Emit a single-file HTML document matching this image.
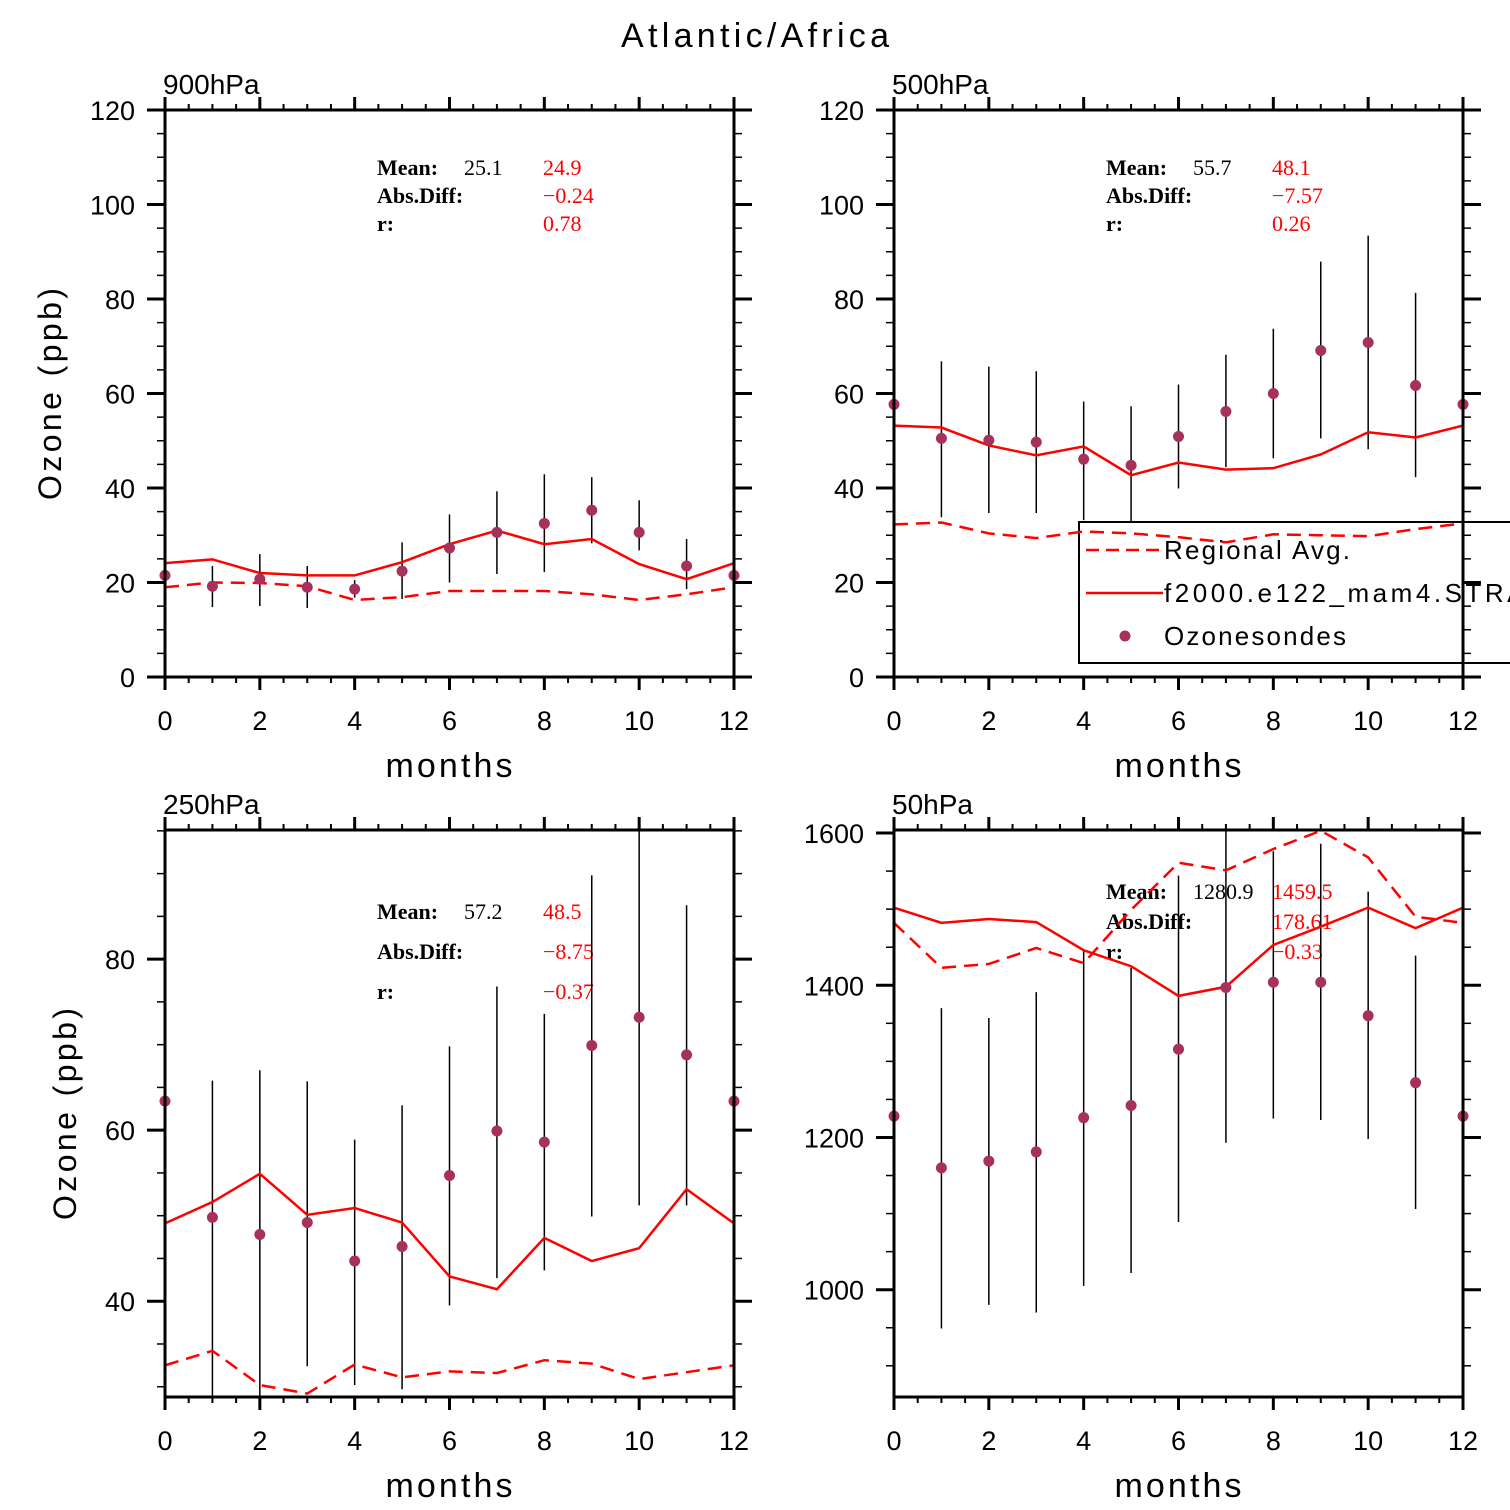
<!DOCTYPE html>
<html><head><meta charset="utf-8"><style>
html,body{margin:0;padding:0;background:#fff;}
svg{display:block;font-family:"Liberation Sans",sans-serif;}
.tk{font-size:27px;fill:#000;}
.st{font-family:"Liberation Serif",serif;font-size:22px;font-weight:bold;}
</style></head><body>
<svg id="chart" width="1510" height="1510" viewBox="0 0 1510 1510">
<text x="755" y="47" text-anchor="middle" font-size="34" textLength="268">Atlantic/Africa</text>
</svg>
<script>
// ---- data (months 0..12) ----
const months = [0,1,2,3,4,5,6,7,8,9,10,11,12];
// Panel 900hPa
const p900Obs = [21.5,19.2,20.7,19.0,18.6,22.4,27.3,30.6,32.5,35.3,30.6,23.5,21.5];
const p900ObsHi = [null,23.5,26.0,23.5,20.5,28.5,34.4,39.3,42.9,42.3,37.4,29.2,null];
const p900ObsLo = [null,14.8,15.0,14.6,16.8,16.5,20.0,21.8,22.2,28.3,26.8,18.6,null];
const p900Model = [24.1,24.9,22.0,21.5,21.5,24.3,28.1,31.0,28.1,29.2,23.9,20.7,24.1];
const p900Reg = [19.0,20.0,19.9,19.2,16.3,16.9,18.2,18.2,18.2,17.5,16.3,17.5,19.0];
// Panel 500hPa
const p500Obs = [57.7,50.5,50.1,49.7,46.1,44.8,50.9,56.2,60.0,69.1,70.8,61.7,57.7];
const p500ObsHi = [null,66.8,65.7,64.7,58.3,57.3,61.9,68.2,73.7,87.9,93.4,81.3,null];
const p500ObsLo = [null,33.8,34.7,34.7,33.2,32.8,39.9,44.4,46.3,50.5,48.2,42.3,null];
const p500Model = [53.2,52.8,49.0,46.9,48.8,42.7,45.4,43.9,44.2,47.1,51.8,50.7,53.2];
const p500Reg = [32.3,32.7,30.4,29.4,30.8,30.4,29.6,28.5,30.2,30.0,29.8,31.3,32.5];
// Panel 250hPa
const p250Obs = [63.4,49.8,47.8,49.2,44.7,46.4,54.7,59.9,58.6,69.9,73.2,68.8,63.4];
const p250ObsHi = [null,65.8,67.0,65.7,58.9,62.9,69.8,76.8,73.6,89.8,97.0,86.3,null];
const p250ObsLo = [null,27.0,27.0,32.4,30.2,29.7,39.5,42.7,43.6,49.9,51.2,51.2,null];
const p250Model = [49.1,51.6,54.9,50.1,50.9,49.2,42.9,41.4,47.4,44.7,46.2,53.1,49.1];
const p250Reg = [32.5,34.2,30.2,29.2,32.6,31.1,31.8,31.6,33.1,32.7,30.9,31.7,32.5];
// Panel 50hPa
const p50Obs = [1228,1160,1169,1181,1226,1242,1316,1397,1404,1404,1360,1272,1228];
const p50ObsHi = [null,1370,1357,1391,1446,1423,1544,1604,1576,1586,1523,1439,null];
const p50ObsLo = [null,949,980,970,1005,1022,1089,1193,1225,1223,1198,1106,null];
const p50Model = [1502,1482,1487,1483,1446,1425,1386,1398,1453,1477,1502,1475,1502];
const p50Reg = [1482,1423,1428,1449,1429,1499,1561,1551,1579,1603,1568,1490,1482];
// tick labels
const yTicks900 = [0,20,40,60,80,100,120];
const yTicks250 = [40,60,80];
const yTicks50 = [1000,1200,1400,1600];
const xTickLabels = [0,2,4,6,8,10,12];
const stats900 = ["25.1","24.9","\u22120.24","0.78"];
const stats500 = ["55.7","48.1","\u22127.57","0.26"];
const stats250 = ["57.2","48.5","\u22128.75","\u22120.37"];
const stats50 = ["1280.9","1459.5","178.61","\u22120.33"];

const NS = "http://www.w3.org/2000/svg";
const svg = document.getElementById('chart');
function mk(tag, attrs, parent){const e=document.createElementNS(NS,tag);for(const k in attrs)e.setAttribute(k,attrs[k]);(parent||svg).appendChild(e);return e;}

function panel(o){
  const g = mk('g',{});
  
  
  const L=o.x0, R=o.x0+569, T=830-(o.top?720:0), B=T+567;
  const x = m => L + (m/12)*(R-L);
  const y = v => B - (v-o.ymin)/(o.ymax-o.ymin)*(B-T);
  const clip = 'clip-'+o.name;
  const cp = mk('clipPath',{id:clip},g); mk('rect',{x:L,y:T,width:R-L,height:B-T},cp);
  // stats text
  const st = mk('g',{class:'st'},g);
  
  
  const sx=o.x0+212, sy=T+o.sy0;
  const lab=['Mean:','Abs.Diff:','r:'];
  for(let i=0;i<3;i++){const t=mk('text',{x:sx,y:sy+i*o.sdy},st);t.textContent=lab[i];}
  let t=mk('text',{x:sx+87,y:sy,'font-weight':'normal'},st);t.textContent=o.stats[0];
  t=mk('text',{x:sx+166,y:sy,fill:'#f00','font-weight':'normal'},st);t.textContent=o.stats[1];
  t=mk('text',{x:sx+166,y:sy+o.sdy,fill:'#f00','font-weight':'normal'},st);t.textContent=o.stats[2];
  t=mk('text',{x:sx+166,y:sy+2*o.sdy,fill:'#f00','font-weight':'normal'},st);t.textContent=o.stats[3];
  // legend
  if(o.legend){
    const lg=mk('g',{},g);
    
    
    mk('rect',{x:1079,y:522,width:440,height:141,fill:'none',stroke:'#000','stroke-width':2},lg);
    mk('line',{x1:1086,y1:550,x2:1163,y2:550,stroke:'#f00','stroke-width':2.5,'stroke-dasharray':'13,7'},lg);
    mk('line',{x1:1086,y1:593,x2:1163,y2:593,stroke:'#f00','stroke-width':2.5},lg);
    mk('circle',{cx:1125,cy:636,r:5.5,fill:'#a8305c'},lg);
    const n=['Regional  Avg.','f2000.e122_mam4.STRAT','Ozonesondes'];
    const w=[186,378,182];
    for(let i=0;i<3;i++){const tt=mk('text',{x:1164,y:559+i*43,'font-size':26,textLength:w[i]},lg);tt.textContent=n[i];
      }
  }
  const dg=mk('g',{'clip-path':'url(#'+clip+')'},g);
  // error bars
  months.forEach((m,i)=>{ if(o.hi[i]==null) return;
    const l=mk('line',{x1:x(m),x2:x(m),y1:y(o.hi[i]),y2:y(o.lo[i]),stroke:'#000','stroke-width':1.5},dg);
    
    
  });
  const pts = arr => months.map((m,i)=>x(m)+','+y(arr[i])).join(' ');
  const reg=mk('polyline',{points:pts(o.reg),fill:'none',stroke:'#f00','stroke-width':2.5,'stroke-dasharray':'14,8'},dg);
  
  
  const mod=mk('polyline',{points:pts(o.model),fill:'none',stroke:'#f00','stroke-width':2.5},dg);
  
  
  months.forEach((m,i)=>{
    const c=mk('circle',{cx:x(m),cy:y(o.obs[i]),r:5.5,fill:'#a8305c'},g);
    
    
  });
  // frame
  const ax=mk('g',{stroke:'#000'},g);
  
  
  mk('rect',{x:L,y:T,width:R-L,height:B-T,fill:'none','stroke-width':3},ax);
  for(let k=0;k<=24;k++){const xx=L+k/24*(R-L);const len=(k%4==0)?13:6;
    mk('line',{x1:xx,x2:xx,y1:B,y2:B+len,'stroke-width':k%4==0?3:2},ax);
    mk('line',{x1:xx,x2:xx,y1:T,y2:T-len,'stroke-width':k%4==0?3:2},ax);}
  for(let v=o.ymin0;v<=o.ymax+1e-6;v+=o.minor){ if(v<o.ymin-1e-6) continue; const yy=y(v);
    const maj=Math.abs((v/o.major)-Math.round(v/o.major))<1e-6; const len=maj?18:8;
    mk('line',{x1:L-len,x2:L,y1:yy,y2:yy,'stroke-width':maj?3:1.5},ax);
    mk('line',{x1:R,x2:R+len,y1:yy,y2:yy,'stroke-width':maj?3:1.5},ax);}
  xTickLabels.forEach(v=>{const tt=mk('text',{x:x(v),y:B+53,'text-anchor':'middle',class:'tk'},g);tt.textContent=v;
    });
  o.yt.forEach(v=>{const tt=mk('text',{x:L-30,y:y(v)+10,'text-anchor':'end',class:'tk'},g);tt.textContent=v;
    });
  let tt=mk('text',{x:L-2,y:T-16,'font-size':28},g);tt.textContent=o.title;
  
  tt=mk('text',{x:L+284,y:B+100,'text-anchor':'middle','font-size':34,textLength:127},g);tt.textContent='months';
  
  if(o.ytx){tt=mk('text',{x:0,y:0,'text-anchor':'middle','font-size':32,textLength:212,transform:'translate('+o.ytx+','+(T+284)+') rotate(-90)'},g);
    tt.textContent='Ozone  (ppb)';}
}
panel({name:'panel-900hpa',title:'900hPa',x0:165,top:true,ymin:0,ymax:120,ymin0:0,minor:5,major:20,yt:yTicks900,
  obs:p900Obs,hi:p900ObsHi,lo:p900ObsLo,model:p900Model,reg:p900Reg,stats:stats900,sy0:65,sdy:28,ytx:61});
panel({name:'panel-500hpa',title:'500hPa',x0:894,top:true,ymin:0,ymax:120,ymin0:0,minor:5,major:20,yt:yTicks900,
  obs:p500Obs,hi:p500ObsHi,lo:p500ObsLo,model:p500Model,reg:p500Reg,stats:stats500,sy0:65,sdy:28,legend:true});
panel({name:'panel-250hpa',title:'250hPa',x0:165,top:false,ymin:28.8,ymax:95.1,ymin0:0,minor:5,major:20,yt:yTicks250,
  obs:p250Obs,hi:p250ObsHi,lo:p250ObsLo,model:p250Model,reg:p250Reg,stats:stats250,sy0:89,sdy:40,ytx:76});
panel({name:'panel-50hpa',title:'50hPa',x0:894,top:false,ymin:859,ymax:1604,ymin0:0,minor:50,major:200,yt:yTicks50,
  obs:p50Obs,hi:p50ObsHi,lo:p50ObsLo,model:p50Model,reg:p50Reg,stats:stats50,sy0:69,sdy:30});
</script>
</body></html>
